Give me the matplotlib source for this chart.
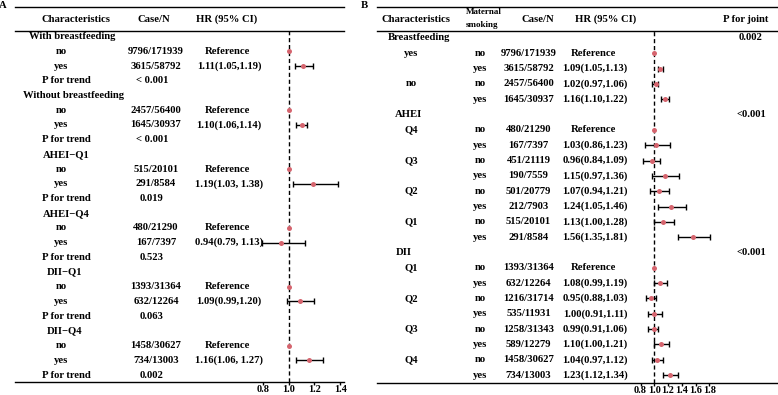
import numpy as np
import matplotlib
matplotlib.use("Agg")
import matplotlib.pyplot as plt
from matplotlib import transforms
from matplotlib.lines import Line2D

plt.rcParams['font.family'] = ['Liberation Serif', 'DejaVu Serif']
plt.rcParams['font.weight'] = 'bold'

# ---------------- data, panel A ----------------
groups_a = ["With breastfeeding", "Without breastfeeding", "AHEI\u2212Q1",
            "AHEI\u2212Q4", "DII\u2212Q1", "DII\u2212Q4"]
case_no_a = ["9796/171939", "2457/56400", "515/20101", "480/21290", "1393/31364", "1458/30627"]
case_yes_a = ["3615/58792", "1645/30937", "291/8584", "167/7397", "632/12264", "734/13003"]
hr_a = [1.11, 1.10, 1.19, 0.94, 1.09, 1.16]
lo_a = [1.05, 1.06, 1.03, 0.79, 0.99, 1.06]
hi_a = [1.19, 1.14, 1.38, 1.13, 1.20, 1.27]
hr_text_a = ["1.11(1.05,1.19)", "1.10(1.06,1.14)", "1.19(1.03, 1.38)",
             "0.94(0.79, 1.13)", "1.09(0.99,1.20)", "1.16(1.06, 1.27)"]
p_trend_a = ["< 0.001", "< 0.001", "0.019", "0.523", "0.063", "0.002"]

# ---------------- data, panel B ----------------
groups_b = ["Breastfeeding", "AHEI", "DII"]
p_joint_b = ["0.002", "<0.001", "<0.001"]
levels_b = [["yes", "no"], ["Q4", "Q3", "Q2", "Q1"], ["Q1", "Q2", "Q3", "Q4"]]
case_b = [["9796/171939", "3615/58792", "2457/56400", "1645/30937"],
          ["480/21290", "167/7397", "451/21119", "190/7559",
           "501/20779", "212/7903", "515/20101", "291/8584"],
          ["1393/31364", "632/12264", "1216/31714", "535/11931",
           "1258/31343", "589/12279", "1458/30627", "734/13003"]]
hr_b = [[1.00, 1.09, 1.02, 1.16],
        [1.00, 1.03, 0.96, 1.15, 1.07, 1.24, 1.13, 1.56],
        [1.00, 1.08, 0.95, 1.00, 0.99, 1.10, 1.04, 1.23]]
lo_b = [[np.nan, 1.05, 0.97, 1.10],
        [np.nan, 0.86, 0.84, 0.97, 0.94, 1.05, 1.00, 1.35],
        [np.nan, 0.99, 0.88, 0.91, 0.91, 1.00, 0.97, 1.12]]
hi_b = [[np.nan, 1.13, 1.06, 1.22],
        [np.nan, 1.23, 1.09, 1.36, 1.21, 1.46, 1.28, 1.81],
        [np.nan, 1.19, 1.03, 1.11, 1.06, 1.21, 1.12, 1.34]]
hr_text_b = [["Reference", "1.09(1.05,1.13)", "1.02(0.97,1.06)", "1.16(1.10,1.22)"],
             ["Reference", "1.03(0.86,1.23)", "0.96(0.84,1.09)", "1.15(0.97,1.36)",
              "1.07(0.94,1.21)", "1.24(1.05,1.46)", "1.13(1.00,1.28)", "1.56(1.35,1.81)"],
             ["Reference", "1.08(0.99,1.19)", "0.95(0.88,1.03)", "1.00(0.91,1.11)",
              "0.99(0.91,1.06)", "1.10(1.00,1.21)", "1.04(0.97,1.12)", "1.23(1.12,1.34)"]]
smoking_b = ["no", "yes"]

ticks_a = [0.8, 1.0, 1.2, 1.4]
ticks_b = [0.8, 1.0, 1.2, 1.4, 1.6, 1.8]

W, H = 778, 395
FS = 7.7
MCOL = '#d5646e'

fig = plt.figure(figsize=(W / 100, H / 100), dpi=100)


def fx(px):
    return px / W


def fy(py):
    return 1 - py / H


def hline(x0, x1, py):
    fig.add_artist(Line2D([fx(x0), fx(x1)], [fy(py), fy(py)], color='k', lw=1.0))


def forest_axes(x0, x1, y_top, y_bot, one_px, px_per_unit, row0_px, row_step, ticks):
    ax = fig.add_axes([fx(x0), fy(y_bot), fx(x1 - x0), (y_bot - y_top) / H])
    ax.set_xlim(1 - (one_px - x0) / px_per_unit, 1 + (x1 - one_px) / px_per_unit)
    ax.set_ylim((y_bot - row0_px) / row_step, (y_top - row0_px) / row_step)
    ax.patch.set_alpha(0)
    for s in ['left', 'right']:
        ax.spines[s].set_visible(False)
    ax.spines['top'].set_linewidth(1.0)
    ax.spines['bottom'].set_linewidth(1.0)
    ax.set_yticks([])
    ax.set_xticks(ticks)
    ax.set_xticklabels(["%.1f" % t for t in ticks], fontsize=7.4, fontweight='bold')
    ax.tick_params(axis='x', length=2.5, width=1, pad=0)
    ax.axvline(1.0, color='k', lw=1.0, ls=(0, (3, 2)), zorder=1)
    return ax


def draw_est(ax, y, hr, lo, hi):
    if not np.isnan(lo):
        ax.errorbar([hr], [y], xerr=[[hr - lo], [hi - hr]], fmt='none', ecolor='k',
                    elinewidth=1.0, capsize=2, capthick=1.0, zorder=2)
    ax.plot([hr], [y], 'o', color=MCOL, ms=3.6, mew=0, zorder=3)


# ================= panel A =================
ax_a = forest_axes(15, 344, 31, 382, 288.7, 128.5, 36.7, 14.71, ticks_a)
tr_a = transforms.blended_transform_factory(fig.transFigure, ax_a.transData)
hline(15, 344, 7)
fig.text(fx(3), fy(6), "A", fontsize=FS, fontweight='bold', ha='center', va='center')
for txt, px in [("Characteristics", 76), ("Case/N", 154), ("HR (95% CI)", 227)]:
    fig.text(fx(px), fy(19), txt, fontsize=FS, fontweight='bold', ha='center', va='center')

group_x_a = [29, 23, 43, 43, 47, 47]
for g in range(len(groups_a)):
    r = 4 * g
    ax_a.text(fx(group_x_a[g]), r, groups_a[g], transform=tr_a, fontsize=FS, ha='left', va='center')
    ax_a.text(fx(61), r + 1, "no", transform=tr_a, fontsize=FS, ha='center', va='center')
    ax_a.text(fx(156), r + 1, case_no_a[g], transform=tr_a, fontsize=FS, ha='center', va='center')
    ax_a.text(fx(227), r + 1, "Reference", transform=tr_a, fontsize=FS, ha='center', va='center')
    ax_a.text(fx(61), r + 2, "yes", transform=tr_a, fontsize=FS, ha='center', va='center')
    ax_a.text(fx(156), r + 2, case_yes_a[g], transform=tr_a, fontsize=FS, ha='center', va='center')
    ax_a.text(fx(229), r + 2, hr_text_a[g], transform=tr_a, fontsize=FS, ha='center', va='center')
    ax_a.text(fx(42), r + 3, "P for trend", transform=tr_a, fontsize=FS, ha='left', va='center')
    ax_a.text(fx(152), r + 3, p_trend_a[g], transform=tr_a, fontsize=FS, ha='center', va='center')
    draw_est(ax_a, r + 1, 1.0, np.nan, np.nan)
    draw_est(ax_a, r + 2, hr_a[g], lo_a[g], hi_a[g])

# ================= panel B =================
ax_b = forest_axes(377, 778, 31, 383, 654.3, 68.8, 38, 15.32, ticks_b)
tr_b = transforms.blended_transform_factory(fig.transFigure, ax_b.transData)
hline(377, 778, 7)
fig.text(fx(364), fy(5), "B", fontsize=FS, fontweight='bold', ha='center', va='center')
for txt, px in [("Characteristics", 416), ("Case/N", 538), ("HR (95% CI)", 606), ("P for joint", 746)]:
    fig.text(fx(px), fy(19), txt, fontsize=FS, fontweight='bold', ha='center', va='center')
fig.text(fx(466), fy(12.5), "Maternal", fontsize=6.5, fontweight='bold', ha='left', va='center')
fig.text(fx(466), fy(25), "smoking", fontsize=6.5, fontweight='bold', ha='left', va='center')

group_x_b = [388, 395, 396]
r = 0
for g in range(len(groups_b)):
    ax_b.text(fx(group_x_b[g]), r, groups_b[g], transform=tr_b, fontsize=FS, ha='left', va='center')
    ax_b.text(fx(751), r, p_joint_b[g], transform=tr_b, fontsize=FS, ha='center', va='center')
    r += 1
    for k in range(len(case_b[g])):
        if k % 2 == 0:
            ax_b.text(fx(411), r, levels_b[g][k // 2], transform=tr_b, fontsize=FS,
                      ha='center', va='center')
        ax_b.text(fx(480), r, smoking_b[k % 2], transform=tr_b, fontsize=FS, ha='center', va='center')
        ax_b.text(fx(528.5), r, case_b[g][k], transform=tr_b, fontsize=FS, ha='center', va='center')
        hx = 593 if hr_text_b[g][k] == "Reference" else 595
        ax_b.text(fx(hx), r, hr_text_b[g][k], transform=tr_b, fontsize=FS, ha='center', va='center')
        draw_est(ax_b, r, hr_b[g][k], lo_b[g][k], hi_b[g][k])
        r += 1

fig.savefig("out.png", dpi=100)
